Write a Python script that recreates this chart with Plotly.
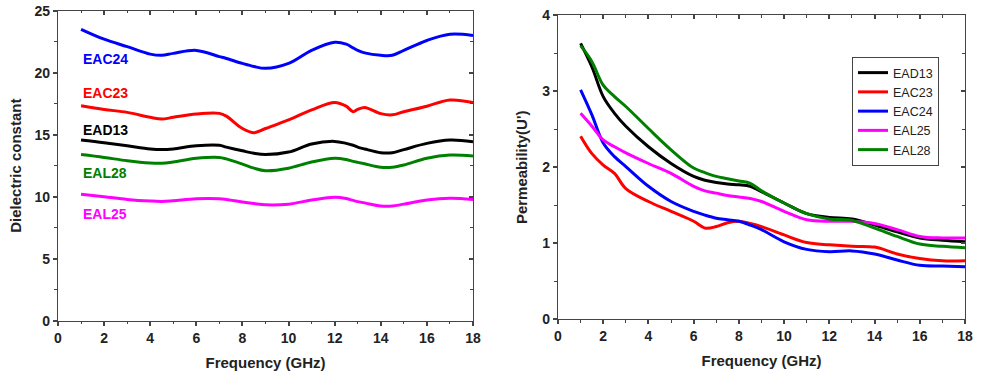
import plotly.graph_objects as go

# ---------------- Data: dielectric constant (left) ----------------
freq_d = [1, 2, 3, 4, 4.5, 5, 6, 7, 7.3, 8, 8.5, 9, 10, 11, 12, 12.5, 12.8, 13, 13.3, 14, 14.5, 15, 16, 17, 18]
eps_EAC24 = [23.5, 22.7, 22.1, 21.5, 21.4, 21.56, 21.8, 21.3, 21.15, 20.75, 20.5, 20.35, 20.75, 21.8, 22.45, 22.3, 22.0, 21.8, 21.6, 21.4, 21.4, 21.8, 22.6, 23.1, 23.0]
eps_EAC23 = [17.34, 17.04, 16.8, 16.4, 16.26, 16.4, 16.67, 16.72, 16.5, 15.5, 15.16, 15.5, 16.2, 17.0, 17.6, 17.3, 16.85, 17.04, 17.2, 16.7, 16.6, 16.85, 17.3, 17.8, 17.6]
eps_EAD13 = [14.57, 14.35, 14.1, 13.85, 13.8, 13.85, 14.1, 14.14, 14.0, 13.7, 13.5, 13.4, 13.6, 14.25, 14.46, 14.3, 14.15, 14.0, 13.85, 13.55, 13.55, 13.8, 14.3, 14.57, 14.44]
eps_EAL28 = [13.4, 13.17, 12.9, 12.72, 12.7, 12.8, 13.1, 13.17, 13.05, 12.63, 12.3, 12.1, 12.3, 12.8, 13.1, 13.0, 12.85, 12.77, 12.65, 12.37, 12.37, 12.55, 13.1, 13.36, 13.28]
eps_EAL25 = [10.2, 10.0, 9.78, 9.65, 9.62, 9.68, 9.84, 9.84, 9.78, 9.57, 9.45, 9.35, 9.4, 9.73, 9.95, 9.85, 9.7, 9.6, 9.5, 9.25, 9.25, 9.4, 9.73, 9.87, 9.78]

# ---------------- Data: permeability (right) ----------------
freq_m = [1, 1.5, 2, 2.5, 3, 4, 5, 6, 6.5, 7, 7.5, 8, 8.5, 9, 10, 11, 12, 13, 14, 15, 16, 17, 18]
mu_EAD13 = [3.63, 3.32, 2.93, 2.71, 2.54, 2.27, 2.05, 1.88, 1.83, 1.80, 1.78, 1.77, 1.75, 1.68, 1.53, 1.39, 1.34, 1.32, 1.24, 1.15, 1.07, 1.04, 1.02]
mu_EAC23 = [2.41, 2.18, 2.03, 1.92, 1.72, 1.55, 1.42, 1.29, 1.20, 1.22, 1.27, 1.29, 1.26, 1.22, 1.11, 1.01, 0.98, 0.96, 0.95, 0.86, 0.80, 0.77, 0.77]
mu_EAC24 = [3.02, 2.69, 2.32, 2.14, 2.01, 1.75, 1.55, 1.42, 1.37, 1.33, 1.31, 1.29, 1.24, 1.18, 1.02, 0.92, 0.89, 0.90, 0.86, 0.78, 0.71, 0.70, 0.69]
mu_EAL25 = [2.71, 2.54, 2.36, 2.27, 2.19, 2.05, 1.92, 1.75, 1.69, 1.66, 1.63, 1.61, 1.59, 1.55, 1.42, 1.31, 1.29, 1.29, 1.26, 1.18, 1.09, 1.07, 1.07]
mu_EAL28 = [3.60, 3.39, 3.08, 2.93, 2.80, 2.51, 2.23, 1.99, 1.93, 1.88, 1.85, 1.82, 1.79, 1.69, 1.53, 1.39, 1.32, 1.30, 1.20, 1.09, 0.99, 0.96, 0.94]

names = ["EAD13", "EAC23", "EAC24", "EAL25", "EAL28"]
colors = {"EAD13": "#000000", "EAC23": "#FF0000", "EAC24": "#0000FF", "EAL25": "#FF00FF", "EAL28": "#008000"}
eps = {"EAD13": eps_EAD13, "EAC23": eps_EAC23, "EAC24": eps_EAC24, "EAL25": eps_EAL25, "EAL28": eps_EAL28}
mu = {"EAD13": mu_EAD13, "EAC23": mu_EAC23, "EAC24": mu_EAC24, "EAL25": mu_EAL25, "EAL28": mu_EAL28}
label_y = {"EAC24": 21.1, "EAC23": 18.4, "EAD13": 15.4, "EAL28": 11.9, "EAL25": 8.6}

FONT = "Arial, 'Liberation Sans', sans-serif"
AX = "#444444"

fig = go.Figure()
for n in names:
    fig.add_trace(go.Scatter(x=freq_d, y=eps[n], mode="lines", line=dict(color=colors[n], width=3, shape="spline", smoothing=1.0),
                             showlegend=False, xaxis="x", yaxis="y"))
for n in names:
    fig.add_trace(go.Scatter(x=freq_m, y=mu[n], mode="lines", name=n, line=dict(color=colors[n], width=3, shape="spline", smoothing=1.0),
                             showlegend=True, xaxis="x2", yaxis="y2"))
# invisible traces on twin subplots that carry the top/right inward ticks
inv = dict(mode="lines", line=dict(width=0, color="rgba(0,0,0,0)"), showlegend=False, hoverinfo="skip")
fig.add_trace(go.Scatter(x=[0, 18], y=[0, 25], xaxis="x3", yaxis="y3", **inv))
fig.add_trace(go.Scatter(x=[0, 18], y=[0, 4], xaxis="x4", yaxis="y4", **inv))

for n in names:
    fig.add_annotation(x=1.0, y=label_y[n], xref="x", yref="y", text="<b>%s</b>" % n, showarrow=False,
                       xanchor="left", yanchor="middle", font=dict(family=FONT, size=14, color=colors[n]))

W, H = 986, 375
dx1 = [58 / W, 473 / W]
dx2 = [558 / W, 965 / W]
dy1 = [1 - 320.7 / H, 1 - 10.7 / H]
dy2 = [1 - 319.3 / H, 1 - 15.3 / H]

tickfont = dict(family=FONT, size=14, color="#222222")
titlefont = dict(family=FONT, size=15, color="#222222")

base = dict(showgrid=False, zeroline=False, showline=True, mirror=True, linecolor=AX, linewidth=1.3, automargin=False,
            ticks="outside", ticklen=4, tickcolor=AX, tickwidth=1.5, tickfont=tickfont)
mir = dict(showgrid=False, zeroline=False, showline=True, linecolor=AX, linewidth=1.3, automargin=False,
           ticks="inside", ticklen=4, tickcolor=AX, tickwidth=1.5, showticklabels=False)
mn_out = dict(ticks="outside", ticklen=2.5, tickcolor=AX, tickwidth=1.2)
mn_in = dict(ticks="inside", ticklen=2.5, tickcolor=AX, tickwidth=1.2)

fig.update_layout(
    width=W, height=H, margin=dict(l=0, r=0, t=0, b=0, autoexpand=False),
    paper_bgcolor="white", plot_bgcolor="rgba(0,0,0,0)",
    font=dict(family=FONT),
    xaxis=dict(base, domain=dx1, anchor="y", range=[0, 18], tickvals=list(range(0, 19, 2)),
               ticktext=["<b>%d</b>" % v for v in range(0, 19, 2)],
               minor=dict(mn_out, tickvals=list(range(1, 18, 2))),
               title=dict(text="<b>Frequency (GHz)</b>", font=titlefont, standoff=12)),
    yaxis=dict(base, domain=dy1, anchor="x", range=[0, 25], tickvals=list(range(0, 26, 5)),
               ticktext=["<b>%d</b>" % v for v in range(0, 26, 5)],
               minor=dict(mn_out, tickvals=[2.5, 7.5, 12.5, 17.5, 22.5]),
               title=dict(text="<b>Dielectric constant</b>", font=titlefont, standoff=9)),
    xaxis2=dict(base, domain=dx2, anchor="y2", range=[0, 18], tickvals=list(range(0, 19, 2)),
                ticktext=["<b>%d</b>" % v for v in range(0, 19, 2)],
                minor=dict(mn_out, tickvals=list(range(1, 18, 2))),
                title=dict(text="<b>Frequency (GHz)</b>", font=titlefont, standoff=12)),
    yaxis2=dict(base, domain=dy2, anchor="x2", range=[0, 4], tickvals=list(range(0, 5)),
                ticktext=["<b>%d</b>" % v for v in range(0, 5)],
                minor=dict(mn_out, tickvals=[0.5, 1.5, 2.5, 3.5]),
                title=dict(text="<b>Permeability(U')</b>", font=titlefont, standoff=10)),
    xaxis3=dict(mir, domain=dx1, anchor="y3", side="top", range=[0, 18], tickvals=list(range(0, 19, 2)),
                minor=dict(mn_in, tickvals=list(range(1, 18, 2)))),
    yaxis3=dict(mir, domain=dy1, anchor="x3", side="right", range=[0, 25], tickvals=list(range(0, 26, 5)),
                minor=dict(mn_in, tickvals=[2.5, 7.5, 12.5, 17.5, 22.5])),
    xaxis4=dict(mir, domain=dx2, anchor="y4", side="top", range=[0, 18], tickvals=list(range(0, 19, 2)),
                minor=dict(mn_in, tickvals=list(range(1, 18, 2)))),
    yaxis4=dict(mir, domain=dy2, anchor="x4", side="right", range=[0, 4], tickvals=list(range(0, 5)),
                minor=dict(mn_in, tickvals=[0.5, 1.5, 2.5, 3.5])),
    legend=dict(x=852 / W, y=1 - 57 / H, xanchor="left", yanchor="top", bgcolor="white",
                bordercolor=AX, borderwidth=1, font=dict(family=FONT, size=12.5, color="#222222"),
                tracegroupgap=0, itemwidth=30),
)

fig.write_html("out.html", config={"displayModeBar": False},
               post_script="document.body.style.margin='0px';")
